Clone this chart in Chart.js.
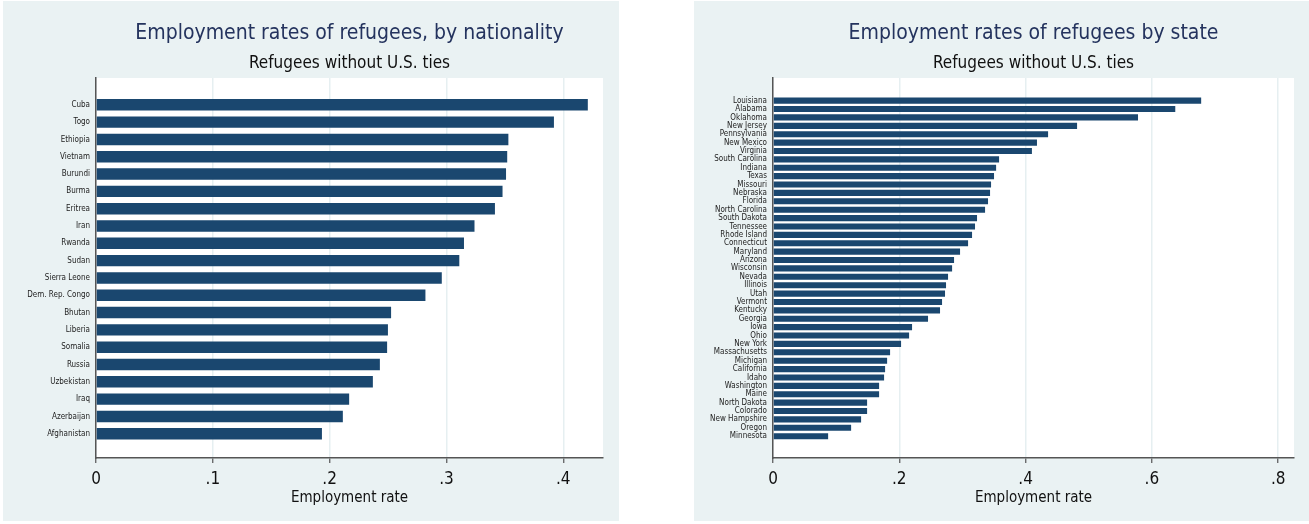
<!DOCTYPE html>
<html>
<head>
<meta charset="utf-8">
<script src="https://cdn.jsdelivr.net/npm/chart.js@4.4.1/dist/chart.umd.min.js"></script>
<style>
body { margin: 0; background: #fff; width: 1309px; height: 524px; overflow: hidden; }
.panel { position: absolute; top: 1px; height: 520px; background: #eaf2f3; }
#p1 { left: 3px; width: 616px; }
#p2 { left: 694px; width: 615px; }
</style>
</head>
<body>
<div class="panel" id="p1"><canvas id="natChart"></canvas></div>
<div class="panel" id="p2"><canvas id="stateChart"></canvas></div>
<script>
// left panel: by nationality
var nationalities = ['Cuba', 'Togo', 'Ethiopia', 'Vietnam', 'Burundi', 'Burma', 'Eritrea', 'Iran', 'Rwanda', 'Sudan',
  'Sierra Leone', 'Dem. Rep. Congo', 'Bhutan', 'Liberia', 'Somalia', 'Russia', 'Uzbekistan', 'Iraq', 'Azerbaijan', 'Afghanistan'];
var natRates = [0.421, 0.392, 0.353, 0.352, 0.351, 0.348, 0.3415, 0.324, 0.315, 0.311,
  0.296, 0.282, 0.2526, 0.2499, 0.2492, 0.243, 0.237, 0.2167, 0.2113, 0.1934];
var natTicks = [0, 0.1, 0.2, 0.3, 0.4];

// right panel: by state
var states = ['Louisiana', 'Alabama', 'Oklahoma', 'New Jersey', 'Pennsylvania', 'New Mexico', 'Virginia', 'South Carolina',
  'Indiana', 'Texas', 'Missouri', 'Nebraska', 'Florida', 'North Carolina', 'South Dakota', 'Tennessee', 'Rhode Island',
  'Connecticut', 'Maryland', 'Arizona', 'Wisconsin', 'Nevada', 'Illinois', 'Utah', 'Vermont', 'Kentucky', 'Georgia',
  'Iowa', 'Ohio', 'New York', 'Massachusetts', 'Michigan', 'California', 'Idaho', 'Washington', 'Maine',
  'North Dakota', 'Colorado', 'New Hampshire', 'Oregon', 'Minnesota'];
var stateRates = [0.678, 0.637, 0.578, 0.4815, 0.4356, 0.418, 0.410, 0.358,
  0.3533, 0.350, 0.3453, 0.3437, 0.3405, 0.3358, 0.3231, 0.3199, 0.3152,
  0.3089, 0.2962, 0.2867, 0.2836, 0.2772, 0.274, 0.2724, 0.2677, 0.2645, 0.2455,
  0.2202, 0.2155, 0.2028, 0.1854, 0.1807, 0.1775, 0.1759, 0.168, 0.168,
  0.149, 0.149, 0.1395, 0.1237, 0.0873];
var stateTicks = [0, 0.2, 0.4, 0.6, 0.8];

var subtitleText = 'Refugees without U.S. ties';
var xTitleText = 'Employment rate';

Chart.defaults.font.family = "'Liberation Sans Narrow', 'Arial Narrow', 'DejaVu Sans Condensed', sans-serif";
Chart.defaults.color = '#111';

// white plot region on the grey-blue panel
var plotBg = {
  id: 'plotBg',
  beforeDraw: function (chart) {
    var a = chart.chartArea, c = chart.ctx;
    c.save();
    c.fillStyle = '#fff';
    c.fillRect(a.left, a.top, a.right - a.left, a.bottom - a.top);
    c.restore();
  }
};

// stata style: .1 .2 ...
function stataTick(v) {
  if (v === 0) return '0';
  return String(+v.toFixed(1)).replace(/^0/, '');
}

function barChart(id, title, names, values, ticks, o) {
  var points = names.map(function (n, i) { return { x: values[i], y: i }; });
  return new Chart(document.getElementById(id).getContext('2d'), {
    type: 'bar',
    data: {
      datasets: [{
        data: points,
        backgroundColor: '#1a476f',
        borderWidth: 0,
        barPercentage: o.barPct,
        categoryPercentage: 1
      }]
    },
    options: {
      indexAxis: 'y',
      animation: false,
      responsive: true,
      maintainAspectRatio: false,
      layout: { padding: { top: 0, left: 0, right: o.right, bottom: 0 } },
      plugins: {
        legend: { display: false },
        tooltip: { enabled: false },
        title: {
          display: true, text: title, color: '#24335e', fullSize: false,
          font: { size: 21, weight: 'normal', lineHeight: 1.2 },
          padding: { top: 20.3, bottom: 0 }
        },
        subtitle: {
          display: true, text: subtitleText, color: '#111', fullSize: false,
          font: { size: 17, weight: 'normal', lineHeight: 1.2 },
          padding: { top: 6.4, bottom: 4.7 }
        }
      },
      scales: {
        x: {
          type: 'linear', min: 0, max: o.xmax,
          afterBuildTicks: function (s) { s.ticks = ticks.map(function (v) { return { value: v }; }); },
          afterFit: function (s) { s.height = 63; },
          ticks: { callback: stataTick, font: { size: 17 }, padding: 6, color: '#111' },
          grid: { color: '#e6eff1', lineWidth: 1.5, tickColor: '#555', tickLength: 5, tickWidth: 1.2 },
          border: { color: '#555', width: 1.5 },
          title: {
            display: true, text: xTitleText, color: '#111',
            font: { size: 15, lineHeight: 1 }, padding: { top: 0, bottom: 15.5 }
          }
        },
        y: {
          type: 'linear', reverse: true, offset: false, min: o.ymin, max: o.ymax,
          afterBuildTicks: function (s) { s.ticks = names.map(function (n, i) { return { value: i }; }); },
          afterFit: function (s) { s.width = o.yw; },
          ticks: {
            autoSkip: false, padding: 6, color: '#222',
            font: { size: 8, lineHeight: 1 },
            callback: function (v) { return names[v]; }
          },
          grid: { display: false, drawTicks: false, tickLength: 0 },
          border: { display: true, color: '#555', width: 1.5 }
        }
      }
    },
    plugins: [plotBg]
  });
}

var natChart = barChart('natChart', 'Employment rates of refugees, by nationality', nationalities, natRates, natTicks,
  { xmax: 0.434, ymin: -1.55, ymax: 20.4, yw: 93, right: 16, barPct: 0.66 });
var stateChart = barChart('stateChart', 'Employment rates of refugees by state', states, stateRates, stateTicks,
  { xmax: 0.825, ymin: -2.7, ymax: 42.6, yw: 79, right: 15, barPct: 0.73 });
</script>
</body>
</html>
